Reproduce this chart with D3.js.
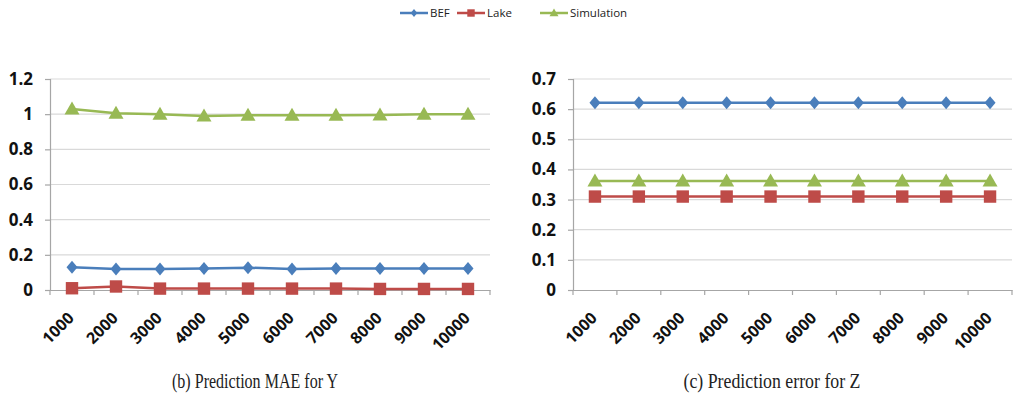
<!DOCTYPE html>
<html><head><meta charset="utf-8">
<script src="https://cdn.jsdelivr.net/npm/d3@7"></script>
<style>
html,body{margin:0;padding:0;background:#fff;}
svg{display:block;}
</style></head>
<body>
<svg id="c" width="1014" height="400"></svg>
<script>
const categories = ["1000","2000","3000","4000","5000","6000","7000","8000","9000","10000"];
const seriesNames = ["BEF","Lake","Simulation"];
const seriesColors = ["#4a7ebb","#be4b48","#98b954"];
// Chart (b) Prediction MAE for Y
const bBEF = [0.13,0.12,0.12,0.122,0.127,0.12,0.122,0.122,0.122,0.122];
const bLake = [0.01,0.02,0.008,0.008,0.008,0.008,0.008,0.006,0.006,0.006];
const bSim = [1.03,1.005,0.999,0.99,0.994,0.994,0.994,0.995,0.999,0.999];
const bTicks = [0,0.2,0.4,0.6,0.8,1,1.2];
// Chart (c) Prediction error for Z
const cBEF = [0.621,0.621,0.621,0.621,0.621,0.621,0.621,0.621,0.621,0.621];
const cLake = [0.31,0.31,0.31,0.31,0.31,0.31,0.31,0.31,0.31,0.31];
const cSim = [0.362,0.362,0.362,0.362,0.362,0.362,0.362,0.362,0.362,0.362];
const cTicks = [0,0.1,0.2,0.3,0.4,0.5,0.6,0.7];
const captions = ["(b) Prediction MAE for Y","(c) Prediction error for Z"];

const svg = d3.select("#c");
// marker shapes: diamond, square, triangle (scaled by k)
function marker(i,k){
  if(i===0) return `M0,${-6.5*k}L${5.5*k},0L0,${6.5*k}L${-5.5*k},0Z`;
  if(i===1) return `M${-6.2*k},${-6.2*k}h${12.4*k}v${12.4*k}h${-12.4*k}Z`;
  return `M0,${-7.5*k}L${7.5*k},${5.5*k}L${-7.5*k},${5.5*k}Z`;
}

function drawChart(opt){
  const {x0,x1,y0,y1,max,ticks,series,caption,capX,capW} = opt;
  const g = svg.append("g");
  const x = d3.scaleBand().domain(categories).range([x0,x1]);
  const y = d3.scaleLinear().domain([0,max]).range([y1,y0]);
  const fmt = d=>String(+d.toFixed(1));
  // gridlines
  g.append("g").selectAll("line").data(ticks.filter(t=>t>0)).join("line")
    .attr("x1",x0).attr("x2",x1).attr("y1",d=>y(d)).attr("y2",d=>y(d))
    .attr("stroke","#d9d9d9").attr("stroke-width",1.2);
  // y axis
  const ya = g.append("g").attr("transform",`translate(${x0},0)`)
    .call(d3.axisLeft(y).tickValues(ticks).tickFormat(fmt).tickSize(5).tickPadding(12));
  ya.select(".domain").attr("stroke","#a6a6a6").attr("stroke-width",1.2);
  ya.selectAll(".tick line").attr("stroke","#a6a6a6").attr("stroke-width",1.2);
  ya.selectAll("text").attr("font-family","'Open Sans',sans-serif").attr("font-weight","bold")
    .attr("font-size",17).attr("fill","#111");
  // x axis
  const xa = g.append("g").attr("transform",`translate(0,${y1})`)
    .call(d3.axisBottom(x).tickSize(0).tickPadding(0));
  xa.select(".domain").attr("stroke","#a6a6a6").attr("stroke-width",1.2);
  xa.selectAll("text").attr("font-family","'Open Sans',sans-serif").attr("font-weight","bold")
    .attr("font-size",16).attr("fill","#111")
    .attr("text-anchor","end").attr("dy",0).attr("y",0)
    .attr("transform","translate(3,29) rotate(-45)");
  // boundary ticks
  const bounds = categories.map(c=>x(c)).concat([x1]);
  g.append("g").selectAll("line").data(bounds).join("line")
    .attr("x1",d=>d).attr("x2",d=>d).attr("y1",y1).attr("y2",y1+5)
    .attr("stroke","#a6a6a6").attr("stroke-width",1.2);
  // series
  series.forEach((vals,i)=>{
    const line = d3.line().x((d,j)=>x(categories[j])+x.bandwidth()/2).y(d=>y(d));
    g.append("path").datum(vals).attr("d",line).attr("fill","none")
      .attr("stroke",seriesColors[i]).attr("stroke-width",2.5);
    g.append("g").selectAll("path").data(vals).join("path")
      .attr("d",marker(i,1))
      .attr("transform",(d,j)=>`translate(${x(categories[j])+x.bandwidth()/2},${y(d)})`)
      .attr("fill",seriesColors[i]);
  });
  svg.append("text").attr("x",capX).attr("y",388).attr("text-anchor","middle")
    .attr("font-family","'Liberation Serif',serif").attr("font-size",20)
    .attr("textLength",capW).attr("lengthAdjust","spacingAndGlyphs")
    .attr("fill","#222").text(caption);
}

drawChart({x0:50,x1:490,y0:79,y1:290,max:1.2,ticks:bTicks,series:[bBEF,bLake,bSim],
  caption:captions[0],capX:255,capW:166});
drawChart({x0:573,x1:1012,y0:79,y1:290,max:0.7,ticks:cTicks,series:[cBEF,cLake,cSim],
  caption:captions[1],capX:772,capW:177});

// legend
const legX = [400,457,540];
const leg = svg.append("g");
seriesNames.forEach((n,i)=>{
  const lx = legX[i];
  leg.append("line").attr("x1",lx).attr("x2",lx+28).attr("y1",13).attr("y2",13)
    .attr("stroke",seriesColors[i]).attr("stroke-width",2.5);
  leg.append("path").attr("d",marker(i,0.6))
    .attr("transform",`translate(${lx+14},13)`).attr("fill",seriesColors[i]);
  leg.append("text").attr("x",lx+30).attr("y",17).attr("font-family","'Open Sans',sans-serif")
    .attr("font-size",11.5).attr("fill","#222").text(n);
});
</script>
</body></html>
